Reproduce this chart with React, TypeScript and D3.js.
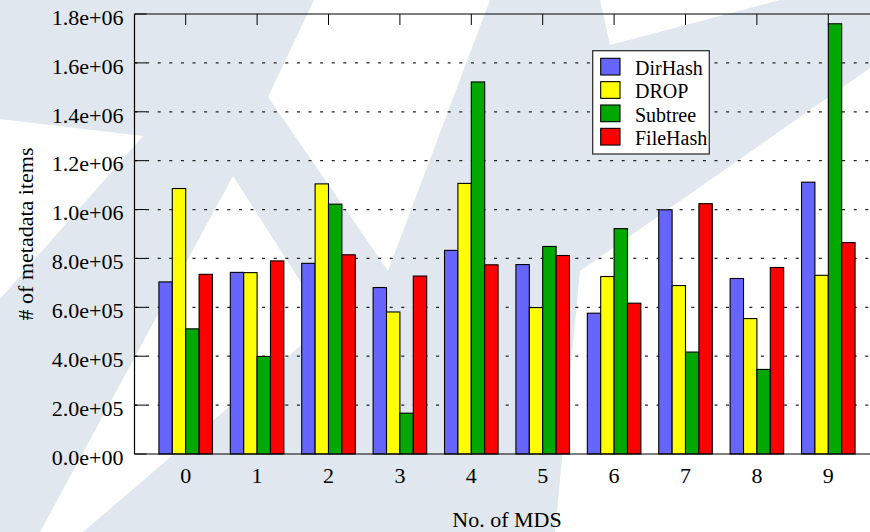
import React from "react";
import * as d3 from "d3";

const categories = ["0", "1", "2", "3", "4", "5", "6", "7", "8", "9"];
const seriesNames = ["DirHash", "DROP", "Subtree", "FileHash"];
const dirHash = [704000, 743000, 780000, 681000, 833000, 775000, 576000, 999000, 718000, 1112000];
const drop = [1086000, 742000, 1105000, 581000, 1107000, 599000, 726000, 689000, 554000, 731000];
const subtree = [512000, 399000, 1022000, 167000, 1522000, 849000, 922000, 417000, 346000, 1760000];
const fileHash = [735000, 790000, 815000, 728000, 774000, 812000, 617000, 1024000, 763000, 865000];
const yTicks = [0, 200000, 400000, 600000, 800000, 1000000, 1200000, 1400000, 1600000, 1800000];
const colors = ["#6666ff", "#ffff00", "#00a800", "#ff0000"];

// decorative background watermark (white shapes over light grey)
const WATERMARK: [number, number][][] = [
  [[0, 119], [143, 136], [0, 299]],
  [[233, 176], [40, 532], [83, 532], [327, 323]],
  [[268, 97], [314, 0], [490, 0], [388, 271]],
  [[600, 0], [780, 0], [610, 45]],
  [[870, 68], [580, 271], [555, 532], [870, 532]],
];

const W = 870;
const H = 532;
const FONT = "'Liberation Serif', 'Times New Roman', serif";

export default function App() {
  const series = [dirHash, drop, subtree, fileHash];
  const left = 134.5;
  const top = 14;
  const bottom = 454;
  const x = d3.scaleLinear().domain([-0.717, categories.length - 1 + 0.717]).range([left, 879.5]);
  const y = d3.scaleLinear().domain([0, 1800000]).range([bottom, top]);
  const step = x(1) - x(0);
  const barW = (step * 0.75) / series.length;
  const fmt = (v: number) => {
    const s = v.toExponential(1);
    const [m, e] = s.split("e");
    const sign = e[0] === "-" ? "-" : "+";
    const ex = e.replace(/^[+-]/, "").padStart(2, "0");
    return `${m}e${sign}${ex}`;
  };
  const line = d3.line();

  return (
    <svg width={W} height={H} style={{ position: "fixed", left: 0, top: 0, background: "#fff" }}>
      <rect x={0} y={0} width={W} height={H} fill="#e1e7ee" />
      {WATERMARK.map((p, i) => (
        <path key={i} d={line(p) + "Z"} fill="#ffffff" />
      ))}
      {/* grid */}
      {yTicks.slice(1, -1).map((t) => (
        <line key={t} x1={left} x2={W} y1={y(t)} y2={y(t)} stroke="#222" strokeWidth={1.2} strokeDasharray="3,8.6" />
      ))}
      {/* ticks */}
      {yTicks.map((t) => (
        <line key={"yt" + t} x1={left} x2={left + 12} y1={y(t)} y2={y(t)} stroke="#000" strokeWidth={1} />
      ))}
      {categories.map((c, i) => (
        <g key={"xt" + c}>
          <line x1={x(i)} x2={x(i)} y1={top} y2={top + 11} stroke="#000" strokeWidth={1} />
          <line x1={x(i)} x2={x(i)} y1={bottom} y2={bottom - 11} stroke="#000" strokeWidth={1} />
        </g>
      ))}
      {/* bars */}
      {categories.map((c, i) =>
        series.map((s, k) => (
          <rect
            key={c + "-" + k}
            x={x(i) + (k - series.length / 2) * barW}
            y={y(s[i])}
            width={barW}
            height={bottom - y(s[i])}
            fill={colors[k]}
            stroke="#000"
            strokeWidth={1.1}
          />
        ))
      )}
      {/* axes frame */}
      <line x1={left} x2={W} y1={top} y2={top} stroke="#000" strokeWidth={1.2} />
      <line x1={left} x2={W} y1={bottom} y2={bottom} stroke="#000" strokeWidth={1.2} />
      <line x1={left} x2={left} y1={top} y2={bottom} stroke="#000" strokeWidth={1.2} />
      {/* y labels */}
      {yTicks.map((t) => (
        <text key={"yl" + t} x={123.5} y={y(t) + 10.8} textAnchor="end" fontFamily={FONT} fontSize={22} fill="#000">
          {fmt(t)}
        </text>
      ))}
      {categories.map((c, i) => (
        <text key={"xl" + c} x={x(i)} y={483} textAnchor="middle" fontFamily={FONT} fontSize={22} fill="#000">
          {c}
        </text>
      ))}
      <text x={(left + 879.5) / 2} y={527} textAnchor="middle" fontFamily={FONT} fontSize={22} fill="#000">
        No. of MDS
      </text>
      <text
        transform={`translate(33, ${(top + bottom) / 2}) rotate(-90)`}
        textAnchor="middle"
        fontFamily={FONT}
        fontSize={22}
        fill="#000"
      >
        # of metadata items
      </text>
      {/* legend */}
      <rect x={592.7} y={50.7} width={116.6} height={103.3} fill="#fff" stroke="#333" strokeWidth={1.3} />
      {seriesNames.map((n, k) => (
        <g key={n}>
          <rect x={600.7} y={58.3 + k * 23.35} width={19.3} height={16.7} fill={colors[k]} stroke="#000" strokeWidth={1.1} />
          <text x={635} y={75 + k * 23.35} fontFamily={FONT} fontSize={20} fill="#000">
            {n}
          </text>
        </g>
      ))}
    </svg>
  );
}
